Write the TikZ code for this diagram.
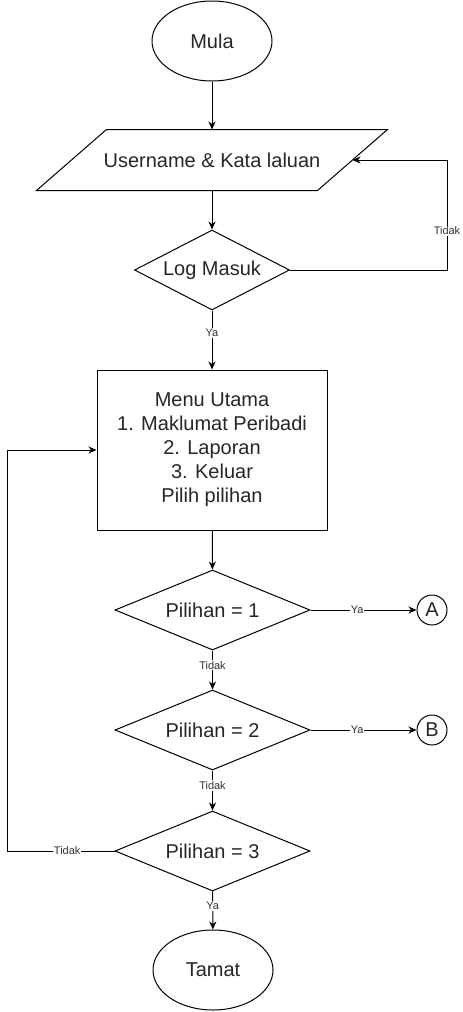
\documentclass[tikz,border=0pt]{standalone}
\usepackage{fontspec}
\setmainfont{Liberation Sans}
\usetikzlibrary{shapes.geometric,arrows.meta}
\begin{document}
\begin{tikzpicture}[x=1pt,y=-1pt,line width=1pt,
  base/.style={line width=1pt,font=\fontsize{20}{24}\selectfont,inner sep=0pt,text=black!85},
  term/.style={base,draw,ellipse,minimum width=120pt,minimum height=80pt},
  dec/.style={base,draw,diamond,aspect=2.4,minimum height=80pt},
  proc/.style={base,draw,rectangle,minimum width=230pt,minimum height=160pt,align=center},
  conn/.style={base,draw,circle,minimum size=30pt},
  iobox/.style={base,rectangle,minimum width=280pt,minimum height=60pt},
  arr/.style={-{Stealth[length=8pt,width=7pt,inset=2.5pt]},line width=1pt},
  lbl/.style={fill=white,inner sep=1pt,font=\fontsize{11}{13}\selectfont,text=black!80}]
\useasboundingbox (0,0) rectangle (463,1012);

\node[term] (mula) at (212,41) {Mula};
\node[iobox] (inp) at (212,160) {Username \& Kata laluan};
\draw ([xshift=35pt]inp.north west) -- ([xshift=35pt]inp.north east)
  -- ([xshift=-35pt]inp.south east) -- ([xshift=-35pt]inp.south west) -- cycle;
\node[dec,minimum width=155pt] (log) at (212,270) {Log Masuk};
\node[proc] (menu) at (212,450) {Menu Utama\\1. Maklumat Peribadi\\2. Laporan\\3. Keluar\\Pilih pilihan};
\node[dec,minimum width=195pt] (p1) at (212.5,610) {Pilihan = 1};
\node[dec,minimum width=195pt] (p2) at (212.5,730) {Pilihan = 2};
\node[dec,minimum width=195pt] (p3) at (212.5,851) {Pilihan = 3};
\node[conn] (A) at (432,610) {A};
\node[conn] (B) at (432,730) {B};
\node[term] (tamat) at (213,970) {Tamat};

\coordinate (rt) at (447,160);
\coordinate (lf) at (7,851);

\draw[arr] (mula) -- (inp);
\draw[arr] (inp) -- (log);
\draw[arr] (log.east) -| node[lbl,pos=0.677]{Tidak} (rt) -- (inp.east);
\draw[arr] (log) -- node[lbl,pos=0.38]{Ya} (menu);
\draw[arr] (menu) -- (p1);
\draw[arr] (p1) -- node[lbl,pos=0.44]{Ya} (A);
\draw[arr] (p1) -- node[lbl,pos=0.375]{Tidak} (p2);
\draw[arr] (p2) -- node[lbl,pos=0.44]{Ya} (B);
\draw[arr] (p2) -- node[lbl,pos=0.375]{Tidak} (p3);
\draw[arr] (p3) -- node[lbl,pos=0.38]{Ya} (tamat);
\draw[arr] (p3.west) -- node[lbl,pos=0.44]{Tidak} (lf) |- (menu.west);
\end{tikzpicture}
\end{document}
